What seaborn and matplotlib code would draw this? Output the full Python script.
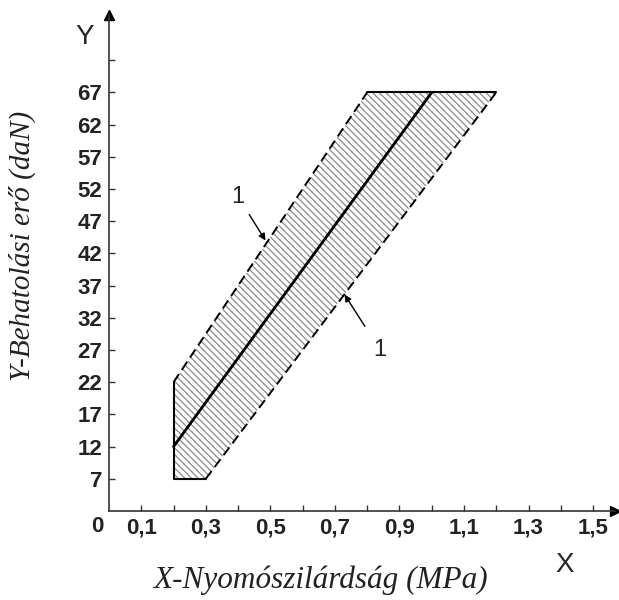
import numpy as np
import pandas as pd
import matplotlib
matplotlib.use("Agg")
import matplotlib.pyplot as plt
import seaborn as sns

# ---- data ----
center_x = [0.2, 1.0]
center_y = [12, 67]
upper_x = [0.2, 0.8]
upper_y = [22, 67]
lower_x = [0.3, 1.2]
lower_y = [7, 67]
x_ticks = [0.1, 0.2, 0.3, 0.4, 0.5, 0.6, 0.7, 0.8, 0.9, 1.0, 1.1, 1.2, 1.3, 1.4, 1.5]
x_labels = ["0,1", "", "0,3", "", "0,5", "", "0,7", "", "0,9", "", "1,1", "", "1,3", "", "1,5"]
y_ticks = [7, 12, 17, 22, 27, 32, 37, 42, 47, 52, 57, 62, 67, 72]
y_labels = ["7", "12", "17", "22", "27", "32", "37", "42", "47", "52", "57", "62", "67", ""]

sns.set_style("ticks")
plt.rcParams['font.family'] = ['Liberation Sans', 'DejaVu Sans']
plt.rcParams['hatch.linewidth'] = 0.9

W, H = 619, 600
fig = plt.figure(figsize=(W / 100, H / 100), dpi=100)
x0, y0, x1, y1 = 109, 511, 615, 15
ax = fig.add_axes([x0 / W, 1 - y0 / H, (x1 - x0) / W, (y0 - y1) / H])
ax.set_xlim(0, (x1 - x0) / 322.7)
ax.set_ylim(2, 2 + (y0 - y1) / 6.44)

# hatched band
poly_x = [upper_x[0], upper_x[1], lower_x[1], lower_x[0], upper_x[0]]
poly_y = [upper_y[0], upper_y[1], lower_y[1], lower_y[0], lower_y[0]]
ax.fill(poly_x, poly_y, facecolor="none", edgecolor="#8a8a8a", hatch="\\\\\\\\\\", linewidth=0)

# solid edges of band
edge_df = pd.DataFrame({"x": [upper_x[1], lower_x[1]], "y": [upper_y[1], lower_y[1]]})
sns.lineplot(data=edge_df, x="x", y="y", ax=ax, color="black", lw=1.5, sort=False)
left_df = pd.DataFrame({"x": [lower_x[0], upper_x[0], upper_x[0]],
                        "y": [lower_y[0], lower_y[0], upper_y[0]]})
sns.lineplot(data=left_df, x="x", y="y", ax=ax, color="black", lw=1.5, sort=False,
             estimator=None)

# dashed boundaries (1)
for bx, by in [(upper_x, upper_y), (lower_x, lower_y)]:
    d = pd.DataFrame({"x": bx, "y": by})
    sns.lineplot(data=d, x="x", y="y", ax=ax, color="black", lw=1.4,
                 linestyle=(0, (5, 2.6)))

# center line
cdf = pd.DataFrame({"x": center_x, "y": center_y})
sns.lineplot(data=cdf, x="x", y="y", ax=ax, color="black", lw=2.0)

# annotations "1"
ax.annotate("1", xy=(0.485, 44.0), xytext=(0.40, 50.8), fontsize=17,
            ha="center", va="center",
            arrowprops=dict(arrowstyle="-|>", color="black", lw=1.0,
                            mutation_scale=10, shrinkA=3, shrinkB=0))
ax.annotate("1", xy=(0.73, 35.6), xytext=(0.84, 27.0), fontsize=17,
            ha="center", va="center",
            arrowprops=dict(arrowstyle="-|>", color="black", lw=1.0,
                            mutation_scale=10, shrinkA=8, shrinkB=0))

# axes styling
ax.spines["top"].set_visible(False)
ax.spines["right"].set_visible(False)
for s in ["left", "bottom"]:
    ax.spines[s].set_linewidth(1.2)
    ax.spines[s].set_color("#333333")
ax.set_xticks(x_ticks)
ax.set_xticklabels(x_labels)
ax.set_yticks(y_ticks)
ax.set_yticklabels(y_labels)
ax.tick_params(direction="in", length=4, width=1, labelsize=16, pad=5, colors="#333333",
               labelcolor="#222222")
for lab in ax.get_xticklabels() + ax.get_yticklabels():
    lab.set_fontweight("bold")
ax.set_xlabel("")
ax.set_ylabel("")

# axis arrows
ax.plot([1], [0], marker=">", color="black", markersize=7, transform=ax.transAxes, clip_on=False)
ax.plot([0], [1], marker="^", color="black", markersize=7, transform=ax.transAxes, clip_on=False)

# origin label and axis letters
fig.text(97 / W, 1 - 527 / H, "0", fontsize=16, fontweight="bold", color="#222222",
         ha="center", va="center")
fig.text(85 / W, 1 - 37 / H, "Y", fontsize=20, ha="center", va="center")
fig.text(565 / W, 1 - 565 / H, "X", fontsize=20, ha="center", va="center")

# axis titles
fig.text(320 / W, 1 - 580 / H, "X-Nyomószilárdság (MPa)", fontsize=22.5, style="italic",
         color="#222222", family=["Liberation Serif", "DejaVu Serif"], ha="center", va="center")
fig.text(22 / W, 1 - 246 / H, "Y-Behatolási erő (daN)", fontsize=21, style="italic",
         color="#222222", family=["Liberation Serif", "DejaVu Serif"], ha="center", va="center",
         rotation=90)

fig.savefig("out.png", dpi=100)
